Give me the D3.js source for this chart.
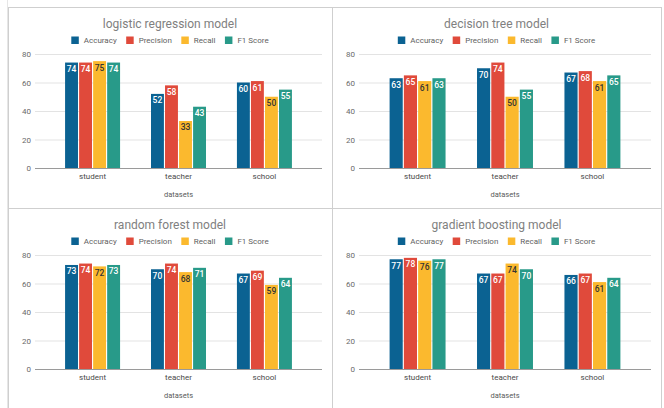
<!DOCTYPE html>
<html>
<head>
<meta charset="utf-8">
<script src="https://cdn.jsdelivr.net/npm/d3@7"></script>
<style>
  html, body { margin: 0; padding: 0; background: #fff; }
  svg { display: block; font-family: Roboto, Arial, sans-serif; }
</style>
</head>
<body>
<div id="chart"></div>
<script>
const categories = ['student', 'teacher', 'school']
const metrics = ['Accuracy', 'Precision', 'Recall', 'F1 Score']
const colors = ['#0b6292', '#e04a3b', '#fbb92e', '#289a89']
const labelColors = ['#ffffff', '#ffffff', '#333333', '#ffffff']
const yTicks = [0, 20, 40, 60, 80]

const models = ['logistic regression model', 'decision tree model', 'random forest model', 'gradient boosting model']
// rows = dataset, cols = metric
const logisticRegression = [[74, 74, 75, 74], [52, 58, 33, 43], [60, 61, 50, 55]]
const decisionTree = [[63, 65, 61, 63], [70, 74, 50, 55], [67, 68, 61, 65]]
const randomForest = [[73, 74, 72, 73], [70, 74, 68, 71], [67, 69, 59, 64]]
const gradientBoosting = [[77, 78, 76, 77], [67, 67, 74, 70], [66, 67, 61, 64]]
const modelValues = [logisticRegression, decisionTree, randomForest, gradientBoosting]

const width = 664
const height = 408

// panel frames of the sheet
const panels = [
  { x: 8, y: 7, w: 324, h: 201 },
  { x: 332, y: 7, w: 329, h: 201 },
  { x: 8, y: 208, w: 324, h: 210 },
  { x: 332, y: 208, w: 329, h: 210 },
]

const svg = d3.select('#chart').append('svg')
  .attr('width', width)
  .attr('height', height)

// faint sheet column line on the left
svg.append('line')
  .attr('x1', 7.5).attr('x2', 7.5).attr('y1', 0).attr('y2', height)
  .attr('stroke', '#e6e6e6')

const y = d3.scaleLinear().domain([0, 80]).range([161, 47])

panels.forEach((p, i) => {
  const g = svg.append('g').attr('transform', `translate(${p.x},${p.y})`)
  const values = modelValues[i]

  g.append('rect')
    .attr('x', 0.5).attr('y', 0.5)
    .attr('width', p.w).attr('height', p.h)
    .attr('fill', '#fff')
    .attr('stroke', '#cfcfcf')

  const gridL = 27
  const gridR = p.w - 10

  g.append('text')
    .attr('x', p.w / 2).attr('y', 20.5)
    .attr('text-anchor', 'middle')
    .attr('font-size', 12)
    .attr('fill', '#808080')
    .text(models[i])

  // legend
  const legend = g.append('g')
  let lx = 0
  metrics.forEach((m, k) => {
    const item = legend.append('g').attr('transform', `translate(${lx},0)`)
    item.append('rect')
      .attr('x', 0).attr('y', 29.5).attr('width', 7.5).attr('height', 7.5)
      .attr('fill', colors[k])
    const t = item.append('text')
      .attr('x', 12.5).attr('y', 36)
      .attr('font-size', 8)
      .attr('fill', '#5f5f5f')
      .text(m)
    lx += 12.5 + t.node().getComputedTextLength() + 9.5
  })
  const legendW = lx - 9.5
  legend.attr('transform', `translate(${(p.w - legendW) / 2},0)`)

  // grid
  g.append('g').selectAll('line')
    .data(yTicks.filter((d) => d > 0))
    .join('line')
    .attr('x1', gridL).attr('x2', gridR)
    .attr('y1', (d) => y(d) + 0.5).attr('y2', (d) => y(d) + 0.5)
    .attr('stroke', '#e3e3e3')

  g.append('g').selectAll('text')
    .data(yTicks)
    .join('text')
    .attr('x', gridL - 4).attr('y', (d) => y(d) + 3)
    .attr('text-anchor', 'end')
    .attr('font-size', 8)
    .attr('fill', '#6a6a6a')
    .text((d) => d)

  const x0 = d3.scaleBand().domain(categories).range([gridL, gridR])
    .paddingInner(0.36).paddingOuter(0.35)
  const x1 = d3.scaleBand().domain(metrics).range([0, x0.bandwidth()]).paddingInner(0.08)

  const groups = g.append('g').selectAll('g')
    .data(categories)
    .join('g')
    .attr('transform', (c) => `translate(${x0(c)},0)`)

  groups.each(function (c, ci) {
    const grp = d3.select(this)
    const rows = metrics.map((m, k) => ({ m, k, v: values[ci][k] }))
    grp.selectAll('rect')
      .data(rows)
      .join('rect')
      .attr('x', (d) => x1(d.m))
      .attr('y', (d) => y(d.v))
      .attr('width', x1.bandwidth())
      .attr('height', (d) => y(0) - y(d.v))
      .attr('fill', (d) => colors[d.k])
    grp.selectAll('text')
      .data(rows)
      .join('text')
      .attr('x', (d) => x1(d.m) + x1.bandwidth() / 2)
      .attr('y', (d) => y(d.v) + 9.5)
      .attr('text-anchor', 'middle')
      .attr('font-size', 8.5)
      .attr('font-weight', 500)
      .attr('fill', (d) => labelColors[d.k])
      .text((d) => d.v)
  })

  // baseline
  g.append('line')
    .attr('x1', gridL).attr('x2', gridR)
    .attr('y1', y(0) + 0.5).attr('y2', y(0) + 0.5)
    .attr('stroke', '#9a9a9a')
    .attr('stroke-width', 1.2)

  g.append('g').selectAll('text')
    .data(categories)
    .join('text')
    .attr('x', (c) => x0(c) + x0.bandwidth() / 2)
    .attr('y', 172)
    .attr('text-anchor', 'middle')
    .attr('font-size', 8)
    .attr('fill', '#4a4a4a')
    .text((c) => c)

  g.append('text')
    .attr('x', (gridL + gridR) / 2).attr('y', 190)
    .attr('text-anchor', 'middle')
    .attr('font-size', 7.5)
    .attr('fill', '#5a5a5a')
    .text('datasets')
})
</script>
</body>
</html>
